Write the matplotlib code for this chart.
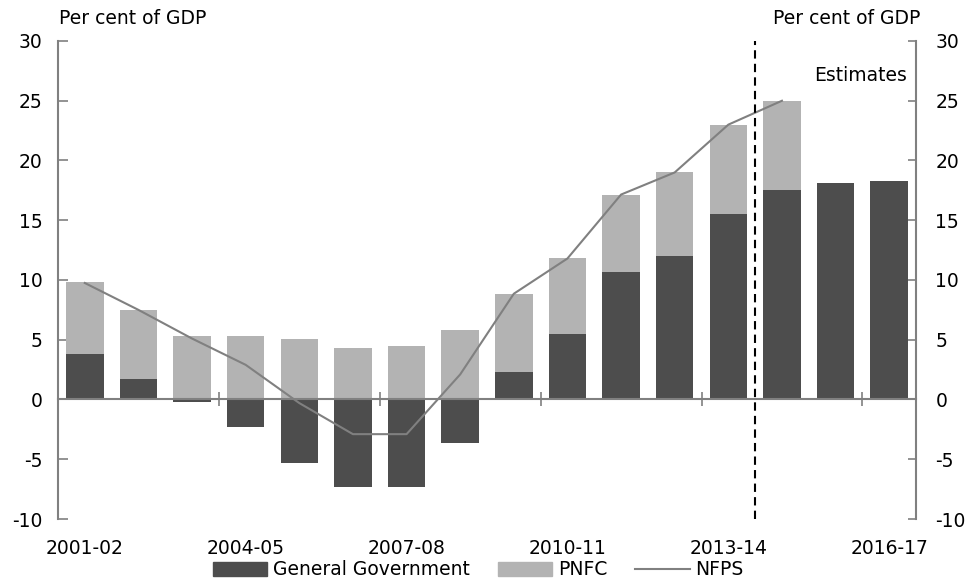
import numpy as np
import matplotlib
matplotlib.use('Agg')
import matplotlib.pyplot as plt
from matplotlib.patches import Patch
from matplotlib.lines import Line2D
import matplotlib.transforms as mtransforms

plt.rcParams['font.family'] = ['DejaVu Sans']
plt.rcParams['axes.unicode_minus'] = False

# Data (per cent of GDP)
years = ['2001-02', '2002-03', '2003-04', '2004-05', '2005-06', '2006-07', '2007-08', '2008-09',
         '2009-10', '2010-11', '2011-12', '2012-13', '2013-14', '2014-15', '2015-16', '2016-17']
gen_gov = [3.8, 1.7, -0.2, -2.3, -5.3, -7.3, -7.3, -3.6, 2.3, 5.5, 10.7, 12.0, 15.5, 17.5, 18.1, 18.3]
pnfc = [6.0, 5.8, 5.3, 5.3, 5.1, 4.3, 4.45, 5.8, 6.5, 6.3, 6.45, 7.0, 7.5, 7.5, 0.0, 0.0]
nfps = [9.75, 7.5, 5.1, 2.9, -0.3, -2.9, -2.9, 2.1, 8.85, 11.8, 17.15, 19.0, 23.0, 25.0]
label_idx = [0, 3, 6, 9, 12, 15]

dark = '#4d4d4d'
light = '#b3b3b3'
line_col = '#808080'
fs = 13.5

fig = plt.figure(figsize=(9.68, 5.84), dpi=100)
ax = fig.add_axes([0.0599, 0.1113, 0.8864, 0.8185])

x = np.arange(len(years))
gg = np.array(gen_gov)
pn = np.array(pnfc)
# positives stack above zero, negatives below
pn_base = np.where(gg > 0, gg, 0)
ax.bar(x, gg, width=0.7, color=dark, zorder=2)
ax.bar(x, pn, width=0.7, bottom=pn_base, color=light, zorder=2)
ax.plot(np.arange(len(nfps)), nfps, color=line_col, lw=1.5, zorder=3)
ax.axvline(12.5, color='black', ls=(0, (4, 2.5)), lw=1.5, zorder=4)

ax.set_xlim(-0.5, len(years) - 0.5)
ax.set_ylim(-10, 30)
ax.set_yticks(np.arange(-10, 31, 5))

ax.spines['top'].set_visible(False)
for s in ['left', 'right', 'bottom']:
    ax.spines[s].set_color(line_col)
    ax.spines[s].set_linewidth(1.5)
ax.spines['bottom'].set_position(('data', 0))
ax.spines['bottom'].set_zorder(5)

ax.set_xticks([2.5, 5.5, 8.5, 11.5, 14.5])
ax.set_xticklabels([])
ax.tick_params(axis='x', direction='inout', length=10, width=1.2, color=line_col)
ax.tick_params(axis='y', direction='in', length=7, width=1.2, color=line_col,
               labelsize=fs, pad=11)

# right-hand axis with the same scale
ax2 = ax.twinx()
ax2.set_ylim(ax.get_ylim())
ax2.set_yticks(np.arange(-10, 31, 5))
for s in ['top', 'left', 'bottom', 'right']:
    ax2.spines[s].set_visible(False)
ax2.tick_params(axis='y', direction='in', length=6, width=1.2, color=line_col,
                labelsize=fs, pad=14)

trans = mtransforms.blended_transform_factory(ax.transData, ax.transAxes)
for i in label_idx:
    ax.text(x[i], -0.0617, years[i], transform=trans, ha='center', va='center', fontsize=fs)

ax.text(0.001, 1.048, 'Per cent of GDP', transform=ax.transAxes, ha='left', va='center', fontsize=fs)
ax.text(1.0047, 1.048, 'Per cent of GDP', transform=ax.transAxes, ha='right', va='center', fontsize=fs)
ax.text(0.9895, 0.927, 'Estimates', transform=ax.transAxes, ha='right', va='center', fontsize=fs)

handles = [Patch(color=dark, label='General Government'),
           Patch(color=light, label='PNFC'),
           Line2D([0], [0], color=line_col, lw=1.5, label='NFPS')]
fig.legend(handles=handles, loc='center', bbox_to_anchor=(0.494, 0.024), ncol=3,
           frameon=False, fontsize=fs, handlelength=2.9, handleheight=0.75,
           handletextpad=0.3, columnspacing=1.5, borderpad=0)

fig.savefig('out.png', dpi=100)
